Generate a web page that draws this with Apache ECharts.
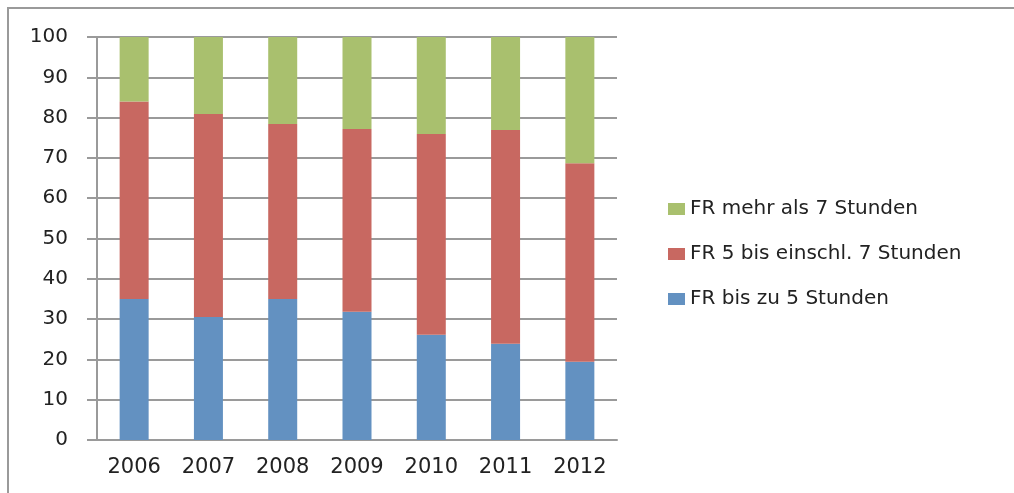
<!DOCTYPE html>
<html>
<head>
<meta charset="utf-8">
<script src="https://cdn.jsdelivr.net/npm/echarts@6/dist/echarts.min.js"></script>
<style>
    html, body { margin: 0; padding: 0; background: #ffffff; overflow: hidden; }
    #main { width: 1014px; height: 493px; position: relative; }
    .frame {
        position: absolute; left: 7px; top: 7px; width: 1007px; height: 486px;
        border-top: 2px solid #9a9a9a; border-left: 2px solid #9a9a9a;
        pointer-events: none;
    }
</style>
</head>
<body>
<div id="main"></div>
<div class="frame"></div>
<script>
// Jahre (Kategorien)
const years = ['2006', '2007', '2008', '2009', '2010', '2011', '2012'];

// Anteile in Prozent
const bis5 = [35.0, 30.5, 35.0, 31.8, 26.1, 23.9, 19.4];
const bis7 = [49.0, 50.4, 43.4, 45.4, 49.8, 53.0, 49.3];
const mehr7 = [16.0, 19.1, 21.6, 22.8, 24.1, 23.1, 31.3];

// Serienbezeichnungen
const names = ['FR bis zu 5 Stunden', 'FR 5 bis einschl. 7 Stunden', 'FR mehr als 7 Stunden'];

const fontFamily = '"DejaVu Sans", "Open Sans", sans-serif';

const myChart = echarts.init(document.getElementById('main'), null, { renderer: 'canvas' });

const option = {
    animation: false,
    grid: { left: 97, right: 397, top: 37, bottom: 53 },
    legend: {
        orient: 'vertical',
        left: 663,
        top: 194,
        itemWidth: 17,
        itemHeight: 12,
        itemGap: 25,
        data: [names[2], names[1], names[0]],
        textStyle: { color: '#222', fontSize: 20, fontFamily: fontFamily },
        icon: 'rect'
    },
    xAxis: {
        type: 'category',
        data: years,
        axisLine: { lineStyle: { color: '#9a9a9a', width: 2 } },
        axisTick: { length: 7, lineStyle: { color: '#9a9a9a', width: 2 } },
        axisLabel: { color: '#222', fontSize: 21, fontFamily: fontFamily, margin: 17 }
    },
    yAxis: {
        type: 'value',
        min: 0,
        max: 100,
        interval: 10,
        axisLine: { show: true, lineStyle: { color: '#9a9a9a', width: 2 } },
        axisTick: { show: true, inside: false, length: 10, lineStyle: { color: '#9a9a9a', width: 2 } },
        splitLine: { lineStyle: { color: '#9a9a9a', width: 2 } },
        axisLabel: { color: '#222', fontSize: 20, fontFamily: fontFamily, margin: 29 }
    },
    series: [
        {
            name: names[0], type: 'bar', stack: 'total', barWidth: 29,
            itemStyle: { color: '#6391c1' }, data: bis5
        },
        {
            name: names[1], type: 'bar', stack: 'total', barWidth: 29,
            itemStyle: { color: '#c86861' }, data: bis7
        },
        {
            name: names[2], type: 'bar', stack: 'total', barWidth: 29,
            itemStyle: { color: '#a9c06e' }, data: mehr7
        }
    ]
};

myChart.setOption(option);
</script>
</body>
</html>
